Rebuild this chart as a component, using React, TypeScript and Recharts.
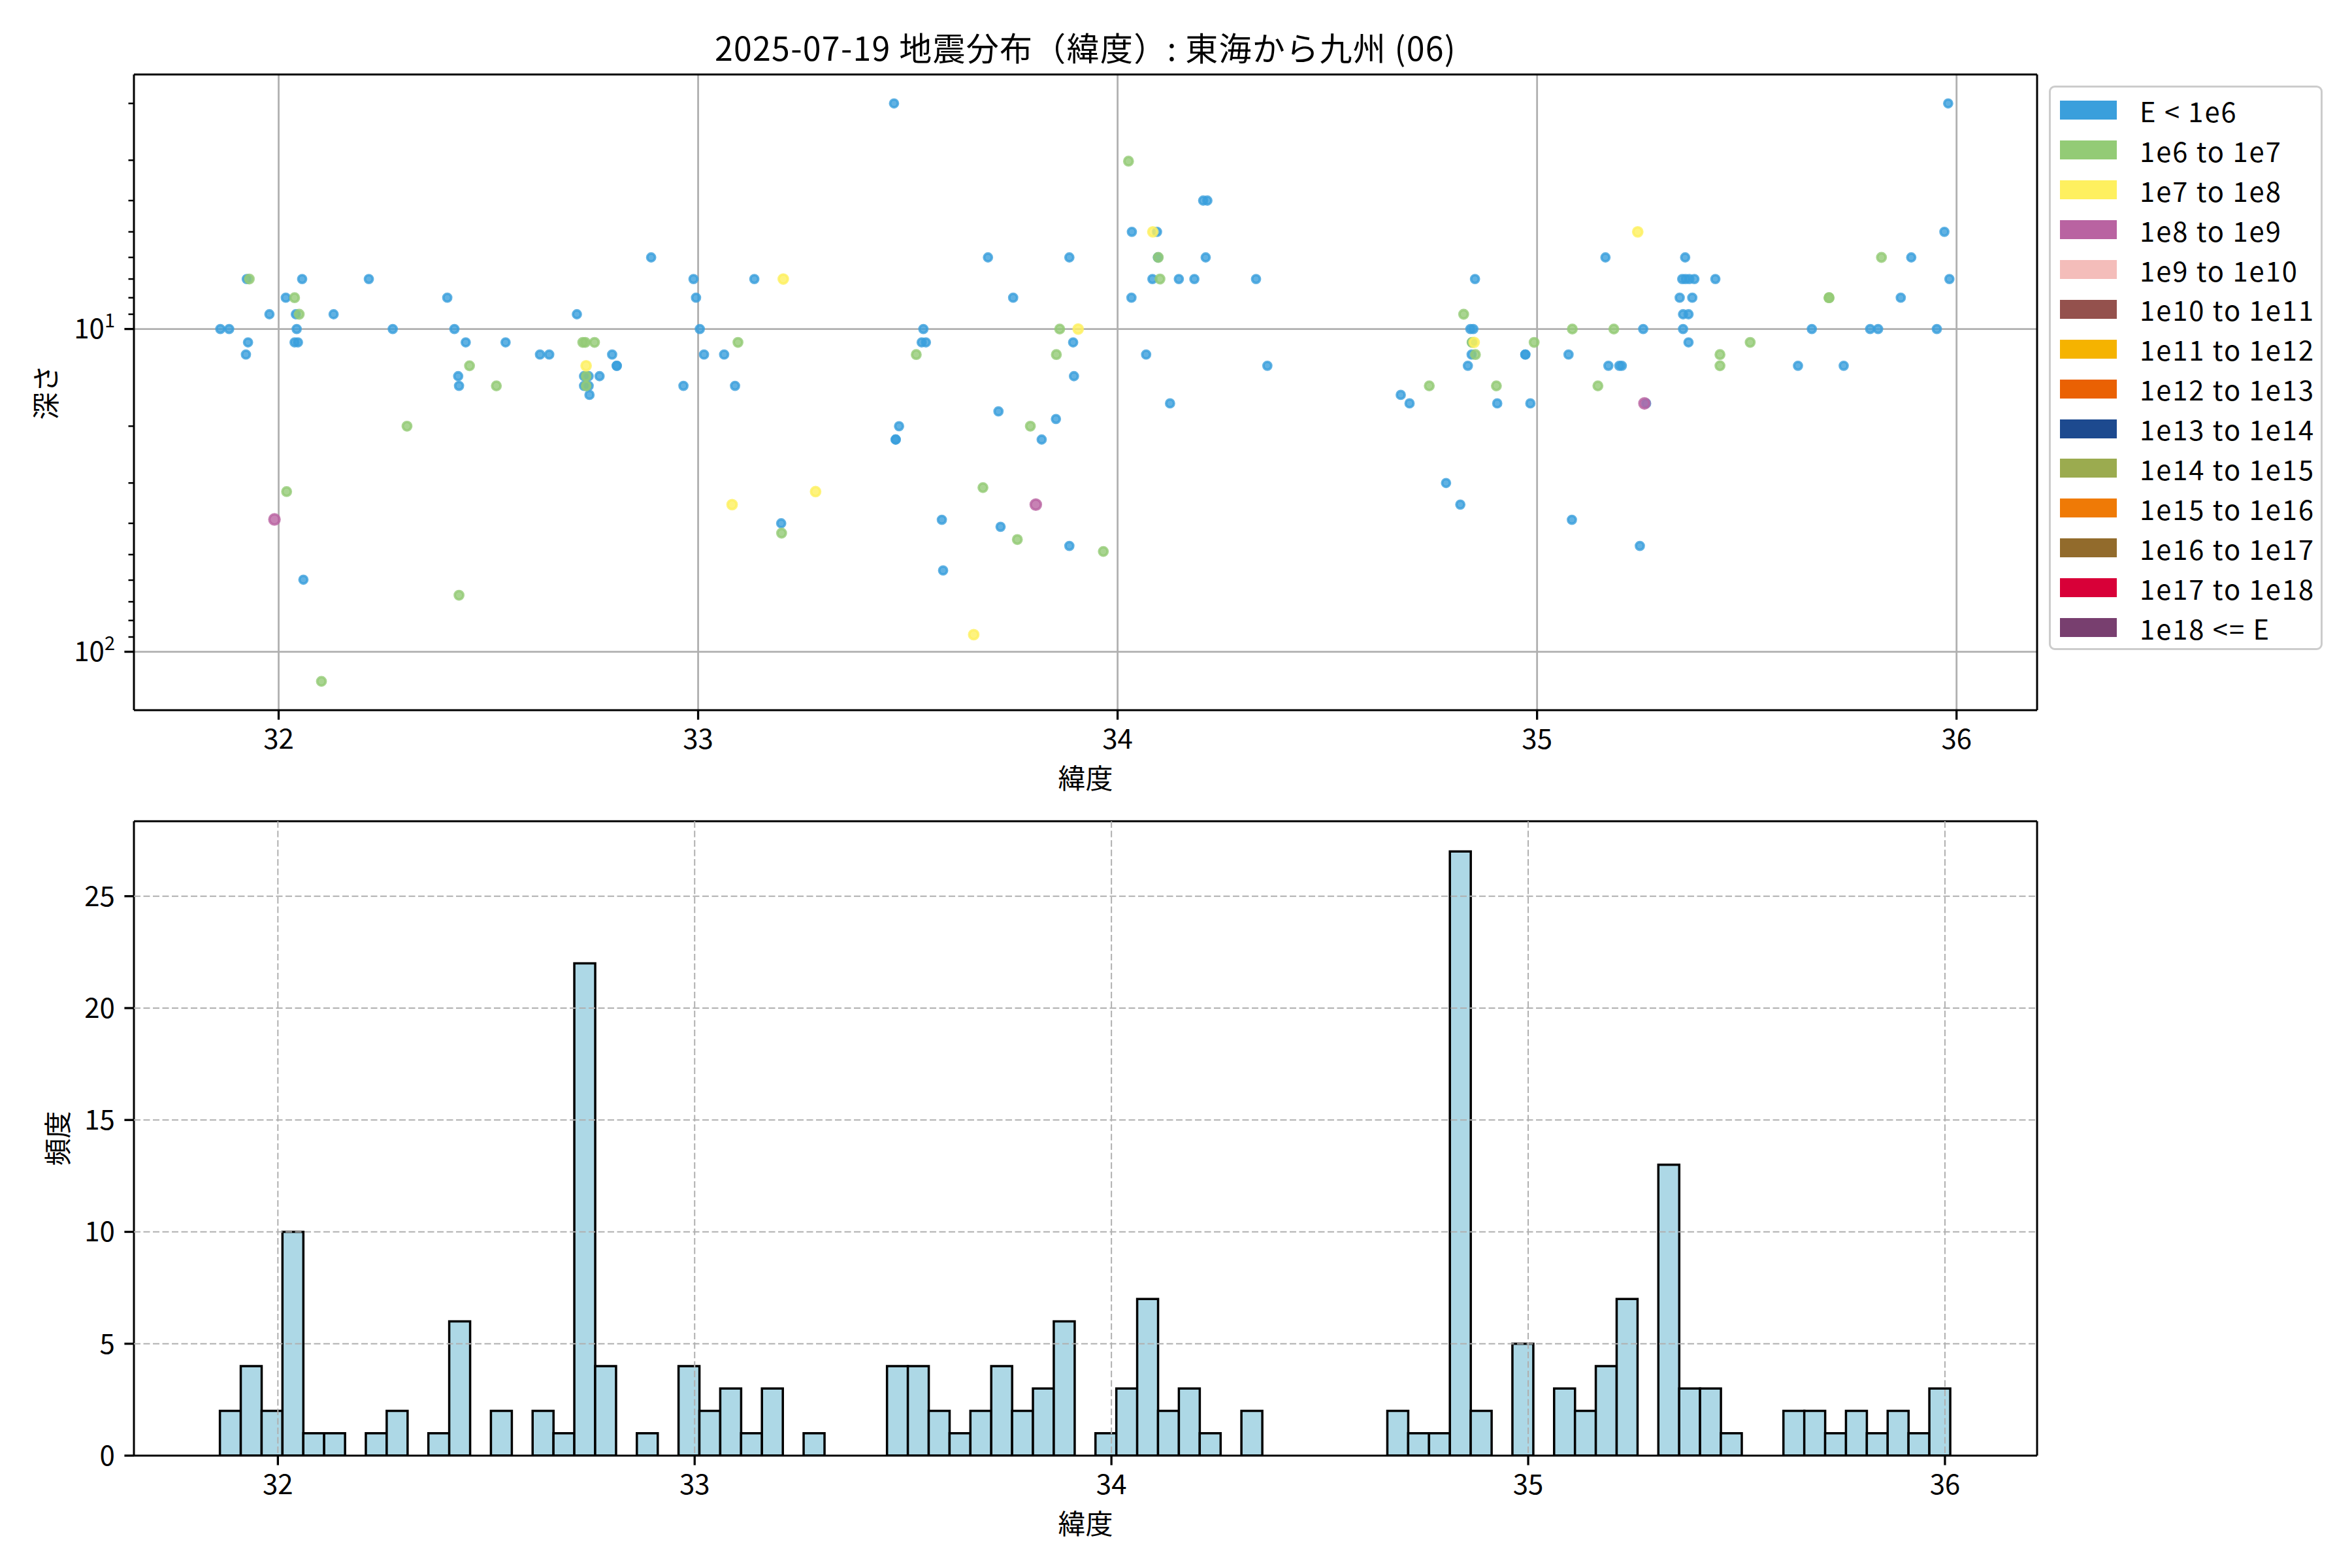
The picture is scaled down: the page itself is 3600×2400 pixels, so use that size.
import React from 'react';
import { ScatterChart, Scatter, BarChart, Bar, XAxis, YAxis, CartesianGrid, Legend, Label } from 'recharts';

const FONT = '"Noto Sans CJK JP", "Noto Sans", sans-serif';

const title = '2025-07-19 地震分布（緯度）: 東海から九州 (06)';

const energyLabels = [
  'E < 1e6', '1e6 to 1e7', '1e7 to 1e8', '1e8 to 1e9', '1e9 to 1e10', '1e10 to 1e11', '1e11 to 1e12',
  '1e12 to 1e13', '1e13 to 1e14', '1e14 to 1e15', '1e15 to 1e16', '1e16 to 1e17', '1e17 to 1e18', '1e18 <= E',
];
const energyColors = [
  '#3a9fdc', '#93cb76', '#fef05f', '#b963a1', '#f4bdba', '#94514d', '#f5b300',
  '#ea6103', '#1d4a8f', '#9bab4f', '#ef7a06', '#926b2c', '#d80038', '#783f6f',
];

const latTicks = [32, 33, 34, 35, 36];
const depthMajor = [10, 100];
const depthMinor = [2, 3, 4, 5, 6, 7, 8, 9, 20, 30, 40, 50, 60, 70, 80, 90];
const countTicks = [0, 5, 10, 15, 20, 25];
const countGrid = [5, 10, 15, 20, 25];

// [latitude, depth] per energy class
const quakesE6: [number, number][] = [
  [31.861, 10], [31.882, 10], [31.924, 7], [31.927, 11], [31.922, 12], [31.978, 9], [32.017, 8], [32.041, 9],
  [32.043, 10], [32.038, 11], [32.046, 11], [32.056, 7], [32.059, 59.8], [32.131, 9], [32.215, 7], [32.272, 10],
  [32.402, 8], [32.419, 10], [32.446, 11], [32.428, 14], [32.43, 15], [32.541, 11], [32.623, 12], [32.645, 12],
  [32.711, 9], [32.728, 14], [32.739, 14], [32.728, 15], [32.739, 15], [32.741, 16], [32.765, 14], [32.795, 12],
  [32.806, 13], [32.806, 13], [32.888, 6], [32.965, 15], [32.989, 7], [32.995, 8], [33.004, 10], [33.014, 12],
  [33.062, 12], [33.088, 15], [33.134, 7], [33.198, 40],
  [33.467, 2.0], [33.537, 10], [33.533, 11], [33.543, 11], [33.479, 20], [33.471, 22], [33.471, 22], [33.581, 39],
  [33.584, 56], [33.691, 6], [33.751, 8], [33.716, 18], [33.721, 41], [33.819, 22], [33.853, 19], [33.885, 6],
  [33.894, 11], [33.896, 14], [33.885, 47], [34.033, 8], [34.034, 5], [34.068, 12], [34.094, 5], [34.096, 6],
  [34.083, 7], [34.125, 17], [34.146, 7], [34.183, 7], [34.204, 4], [34.214, 4], [34.21, 6], [34.33, 7],
  [34.357, 13], [34.675, 16],
  [34.696, 17], [34.783, 30], [34.817, 35], [34.852, 7], [34.841, 10], [34.848, 10], [34.845, 11], [34.844, 12],
  [34.835, 13], [34.905, 17], [34.972, 12], [34.972, 12], [34.984, 17], [35.075, 12], [35.083, 39], [35.163, 6],
  [35.17, 13], [35.196, 13], [35.202, 13], [35.245, 47], [35.253, 10], [35.26, 17], [35.348, 10], [35.348, 9],
  [35.361, 9], [35.34, 8], [35.37, 8], [35.346, 7], [35.354, 7], [35.363, 7], [35.375, 7], [35.353, 6],
  [35.361, 11], [35.425, 7], [35.622, 13], [35.655, 10], [35.731, 13], [35.794, 10], [35.813, 10], [35.867, 8],
  [35.892, 6], [35.953, 10], [35.971, 5], [35.98, 2.0], [35.983, 7],
];
const quakesE7: [number, number][] = [
  [31.93, 7], [32.038, 8], [32.049, 9], [32.019, 31.9], [32.102, 123.5], [32.455, 13], [32.43, 66.8], [32.306, 20],
  [32.519, 15], [32.725, 11], [32.731, 11], [32.753, 11], [32.733, 14], [32.733, 15], [33.095, 11], [33.199, 42.9],
  [33.52, 12], [33.679, 31], [33.761, 44.9], [33.792, 20], [33.854, 12], [33.862, 10], [33.966, 48.9], [34.026, 3.02],
  [34.097, 6], [34.101, 7], [34.743, 15], [34.825, 9], [34.845, 11], [34.853, 12], [34.903, 15], [34.993, 11],
  [35.084, 10], [35.145, 15], [35.183, 10], [35.436, 12], [35.436, 13], [35.508, 11], [35.696, 8], [35.696, 8],
  [35.821, 6],
];
const quakesE8: [number, number][] = [
  [32.733, 13], [33.081, 35], [33.203, 7], [33.28, 31.9], [33.906, 10], [34.084, 5], [33.657, 88.5], [35.24, 5],
  [34.85, 11],
];
const quakesE9: [number, number][] = [
  [31.99, 38.9], [33.805, 35], [35.256, 17],
];

const binStart = 31.861;
const binWidth = 0.05;
const binCounts = [
  2, 4, 2, 10, 1, 1, 0, 1, 2, 0, 1, 6, 0, 2, 0, 2, 1, 22, 4, 0, 1, 0, 4, 2, 3, 1, 3, 0, 1,
  0, 0, 0, 4, 4, 2, 1, 2, 4, 2, 3, 6, 0, 1, 3, 7, 2, 3, 1, 0, 2, 0, 0, 0, 0, 0, 0, 2, 1, 1, 27, 2,
  0, 5, 0, 3, 2, 4, 7, 0, 13, 3, 3, 1, 0, 0, 2, 2, 1, 2, 1, 2, 1, 3,
];

const toPoints = (rows: [number, number][]) => rows.map(([lat, depth]) => ({ lat, depth }));
const histData = binCounts.map((count, i) => {
  const center = binStart + binWidth * (i + 0.5);
  return { bin: center.toFixed(3), center, count };
});

const scatterSeries = [
  { name: energyLabels[0], color: energyColors[0], r: 6, data: toPoints(quakesE6) },
  { name: energyLabels[1], color: energyColors[1], r: 6.5, data: toPoints(quakesE7) },
  { name: energyLabels[2], color: energyColors[2], r: 7, data: toPoints(quakesE8) },
  { name: energyLabels[3], color: energyColors[3], r: 7.8, data: toPoints(quakesE9) },
];

const tickStyle = { fill: '#000', fontSize: 42 };
const spine = { stroke: '#000', strokeWidth: 3 };
const tickMark = { stroke: '#000', strokeWidth: 3.3 };

const dot = (r: number, color: string) => (props: any) => (
  <circle cx={props.cx} cy={props.cy} r={r} fill={color} fillOpacity={0.8} stroke={color} strokeOpacity={0.8} strokeWidth={3.8} />
);

const DepthTick = (props: any) => {
  const { x, y, payload } = props;
  const v = payload.value;
  if (!depthMajor.includes(v)) {
    return <line x1={x - 8.5} x2={x} y1={y} y2={y} stroke="#000" strokeWidth={2.5} />;
  }
  return (
    <g>
      <line x1={x - 14.6} x2={x} y1={y} y2={y} stroke="#000" strokeWidth={3.3} />
      <text x={x - 29} y={y + 14} textAnchor="end" fontSize={42} fill="#000">
        10<tspan dy={-17} fontSize={29}>{Math.round(Math.log10(v))}</tspan>
      </text>
    </g>
  );
};

const yTitle = (text: string, x: number) => (props: any) => {
  const vb = props.viewBox;
  const cy = vb.y + vb.height / 2;
  return (
    <text x={x} y={cy} transform={`rotate(-90 ${x} ${cy})`} textAnchor="middle" dominantBaseline="central" fontSize={42} fill="#000">
      {text}
    </text>
  );
};

const renderLegend = () => (
  <div
    style={{
      width: 419, height: 864, boxSizing: 'border-box', border: '3px solid #cccccc', borderRadius: 9,
      background: 'rgba(255,255,255,0.8)', paddingTop: 4.5, fontFamily: FONT,
    }}
  >
    {energyLabels.map((label, i) => (
      <div key={label} style={{ display: 'flex', alignItems: 'center', height: 60.9 }}>
        <div style={{ marginLeft: 14, width: 87, height: 29, background: energyColors[i] }} />
        <span style={{ marginLeft: 35, fontSize: 41.7, lineHeight: '42px', letterSpacing: 2, color: '#000', whiteSpace: 'pre' }}>
          {label}
        </span>
      </div>
    ))}
  </div>
);

export default function App() {
  return (
    <div style={{ position: 'absolute', left: 0, top: 0, width: 3600, height: 2400, background: '#fff', fontFamily: FONT }}>
      <div
        style={{
          position: 'absolute', left: 0, top: 44, width: 3323, textAlign: 'center', fontSize: 50,
          lineHeight: '54px', letterSpacing: 1.3, color: '#000',
        }}
      >
        {title}
      </div>

      <div style={{ position: 'absolute', left: 0, top: 0 }}>
        <ScatterChart width={3600} height={1250} margin={{ top: 113, right: 481, left: 55, bottom: 33 }} style={{ fontFamily: FONT }}>
          <CartesianGrid stroke="#b0b0b0" strokeWidth={2.8} horizontalValues={depthMajor} verticalValues={latTicks} />
          <XAxis
            dataKey="lat"
            type="number"
            domain={[31.655, 36.192]}
            allowDataOverflow
            ticks={latTicks}
            interval={0}
            height={130}
            tickSize={14.6}
            tickMargin={14.6}
            tick={tickStyle}
            tickLine={tickMark}
            axisLine={spine}
            label={{ value: '緯度', position: 'insideBottom', offset: 10, fill: '#000', fontSize: 42 }}
          />
          <YAxis
            dataKey="depth"
            type="number"
            scale="log"
            reversed
            domain={[1.627, 151.7]}
            allowDataOverflow
            ticks={[...depthMinor, ...depthMajor]}
            interval={0}
            width={150}
            tickSize={0}
            tickMargin={0}
            tickLine={false}
            tick={<DepthTick />}
            axisLine={spine}
          >
            <Label content={yTitle('深さ', 67)} />
          </YAxis>
          <XAxis
            xAxisId="top"
            orientation="top"
            dataKey="lat"
            type="number"
            domain={[31.655, 36.192]}
            allowDataOverflow
            ticks={latTicks}
            height={1}
            tick={false}
            tickLine={false}
            axisLine={spine}
          />
          <YAxis
            yAxisId="right"
            orientation="right"
            dataKey="depth"
            type="number"
            domain={[0, 200]}
            allowDataOverflow
            ticks={depthMajor}
            width={1}
            tick={false}
            tickLine={false}
            axisLine={spine}
          />
          {scatterSeries.map((s) => (
            <Scatter key={s.name} name={s.name} data={s.data} fill={s.color} shape={dot(s.r, s.color)} isAnimationActive={false} />
          ))}
          <Legend
            layout="vertical"
            align="center"
            verticalAlign="middle"
            wrapperStyle={{ left: 3136, top: 131, width: 419, height: 864 }}
            content={renderLegend}
          />
        </ScatterChart>
      </div>

      <div style={{ position: 'absolute', left: 0, top: 1250 }}>
        <BarChart
          width={3600}
          height={1150}
          data={histData}
          margin={{ top: 6, right: 481, left: 55, bottom: 42 }}
          barCategoryGap={0}
          barGap={0}
          style={{ fontFamily: FONT }}
        >
          <XAxis xAxisId="cat" dataKey="bin" hide height={0} padding={{ left: 131.6, right: 133 }} />
          <CartesianGrid
            xAxisId="num"
            stroke="#b0b0b0"
            strokeWidth={2}
            strokeDasharray="10 4.5"
            horizontalValues={countGrid}
            verticalValues={latTicks}
            zIndex={700}
          />
          <XAxis
            xAxisId="num"
            dataKey="center"
            type="number"
            domain={[31.6546, 36.2211]}
            allowDataOverflow
            ticks={latTicks}
            interval={0}
            height={130}
            tickSize={14.6}
            tickMargin={14.6}
            tick={tickStyle}
            tickLine={tickMark}
            axisLine={spine}
            label={{ value: '緯度', position: 'insideBottom', offset: 10, fill: '#000', fontSize: 42 }}
          />
          <YAxis
            dataKey="count"
            type="number"
            domain={[0, 28.35]}
            allowDataOverflow
            ticks={countTicks}
            interval={0}
            width={150}
            tickSize={14.6}
            tickMargin={14.6}
            tick={tickStyle}
            tickLine={tickMark}
            axisLine={spine}
          >
            <Label content={yTitle('頻度', 85)} />
          </YAxis>
          <XAxis
            xAxisId="top"
            orientation="top"
            dataKey="center"
            type="number"
            domain={[31.6546, 36.2211]}
            allowDataOverflow
            ticks={latTicks}
            height={1}
            tick={false}
            tickLine={false}
            axisLine={spine}
          />
          <YAxis
            yAxisId="right"
            orientation="right"
            dataKey="count"
            type="number"
            domain={[0, 28.35]}
            allowDataOverflow
            ticks={countTicks}
            width={1}
            tick={false}
            tickLine={false}
            axisLine={spine}
          />
          <Bar xAxisId="cat" dataKey="count" fill="#add8e6" stroke="#000" strokeWidth={3.5} isAnimationActive={false} />
        </BarChart>
      </div>
    </div>
  );
}
